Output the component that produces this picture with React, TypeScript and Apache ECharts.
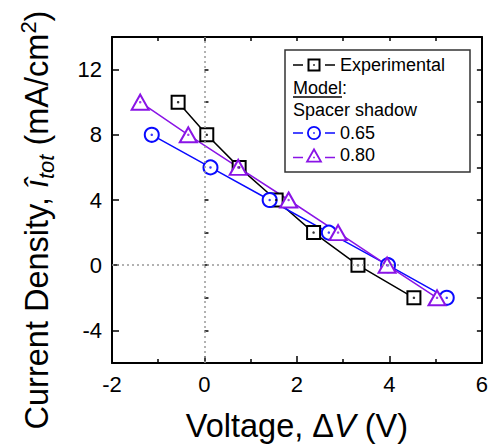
import React, { useEffect, useRef } from "react";
import * as echarts from "echarts";

// Measured current density vs. applied voltage
const expVoltage = [-0.57, 0.05, 0.75, 1.55, 2.36, 3.32, 4.53];
const expCurrent = [10, 8, 6, 4, 2, 0, -2];

// Model, spacer shadow fraction 0.65
const m065Voltage = [-1.14, 0.13, 1.41, 2.69, 3.97, 5.24];
const m065Current = [8, 6, 4, 2, 0, -2];

// Model, spacer shadow fraction 0.80
const m080Voltage = [-1.39, -0.35, 0.73, 1.82, 2.89, 3.95, 5.03];
const m080Current = [10, 8, 6, 4, 2, 0, -2];

const xLabelValues = [-2, 0, 2, 4, 6];
const yLabelValues = [-4, 0, 4, 8, 12];

const seriesNames = ["Experimental", "0.65", "0.80"];
const colors = ["#000000", "#0a0aff", "#8a14e6"];

const FONT = "'Liberation Sans', Arial, Helvetica, sans-serif";
const TITLE_SIZE = 32.5;

const pairs = (xs: number[], ys: number[]) => xs.map((x, i) => [x, ys[i]]);

// Legend icons: dash, hollow marker with centre dot, dash
const squareIcon =
  "path://M0 5.75 L10 5.75 L10 7.25 L0 7.25 Z " +
  "M14.5 0 L27.5 0 L27.5 13 L14.5 13 Z M16.5 2 L16.5 11 L25.5 11 L25.5 2 Z " +
  "M20.2 5.7 L21.8 5.7 L21.8 7.3 L20.2 7.3 Z " +
  "M32 5.75 L42 5.75 L42 7.25 L32 7.25 Z";
const circleIcon =
  "path://M0 6.25 L10 6.25 L10 7.75 L0 7.75 Z " +
  "M14 7 A7 7 0 1 1 28 7 A7 7 0 1 1 14 7 Z M15.8 7 A5.2 5.2 0 1 0 26.2 7 A5.2 5.2 0 1 0 15.8 7 Z " +
  "M20.2 6.2 L21.8 6.2 L21.8 7.8 L20.2 7.8 Z " +
  "M32 6.25 L42 6.25 L42 7.75 L32 7.75 Z";
const triangleIcon =
  "path://M0 9.25 L10 9.25 L10 10.75 L0 10.75 Z " +
  "M21 0 L29.5 15 L12.5 15 Z M21 3.65 L15.59 13.2 L26.41 13.2 Z " +
  "M20.2 9.2 L21.8 9.2 L21.8 10.8 L20.2 10.8 Z " +
  "M32 9.25 L42 9.25 L42 10.75 L32 10.75 Z";

const lineSeries = (
  name: string,
  data: number[][],
  color: string,
  symbol: string,
  size: number | number[]
) => ({
  name,
  type: "line",
  data,
  symbol,
  symbolSize: size,
  showSymbol: true,
  lineStyle: { color, width: 1.5 },
  itemStyle: { color, borderColor: color, borderWidth: 2 },
  emphasis: { disabled: true },
  z: 2,
});

const dotSeries = (name: string, data: number[][], color: string) => ({
  name,
  type: "scatter",
  data,
  symbol: "circle",
  symbolSize: 2.5,
  itemStyle: { color },
  emphasis: { disabled: true },
  z: 3,
});

export default function App() {
  const ref = useRef<HTMLDivElement>(null);

  useEffect(() => {
    if (!ref.current) return;
    const chart = echarts.init(ref.current, null, { renderer: "svg" });

    const tickLabel = { fontFamily: FONT, fontSize: 22, color: "#000" };
    const axisLine = { show: true, onZero: false, lineStyle: { color: "#000", width: 2 } };

    const legendBase = {
      orient: "vertical",
      left: 293,
      padding: 0,
      itemGap: 0,
      itemWidth: 42,
      selectedMode: false,
      itemStyle: { borderWidth: 0 },
      textStyle: { fontFamily: FONT, fontSize: 18, color: "#000", padding: [0, 0, 0, 0] },
    };

    chart.setOption({
      animation: false,
      backgroundColor: "#fff",
      grid: { left: 112, right: 9, top: 37, bottom: 76 },
      xAxis: [
        {
          type: "value",
          position: "bottom",
          min: -2,
          max: 6,
          interval: 2,
          axisLine,
          axisTick: { inside: true, length: 7, lineStyle: { color: "#000", width: 1.5 } },
          minorTick: { show: true, splitNumber: 2, length: 4, lineStyle: { color: "#000", width: 1.5 } },
          axisLabel: {
            ...tickLabel,
            margin: 10,
            customValues: xLabelValues,
            formatter: (v: number) => String(v),
          },
          splitLine: { show: false },
          name: "{a|Voltage, Δ}{i|V}{a| (V)}",
          nameLocation: "middle",
          nameGap: 46,
          nameTextStyle: {
            rich: {
              a: { fontFamily: FONT, fontSize: TITLE_SIZE, color: "#000" },
              i: { fontFamily: FONT, fontSize: TITLE_SIZE, fontStyle: "italic", color: "#000" },
            },
          },
        },
        {
          type: "value",
          position: "top",
          min: -2,
          max: 6,
          interval: 1,
          axisLine,
          axisTick: { inside: true, length: 4, lineStyle: { color: "#000", width: 1.5 } },
          axisLabel: { show: false },
          splitLine: { show: false },
        },
      ],
      yAxis: [
        {
          type: "value",
          position: "left",
          min: -6,
          max: 14,
          interval: 2,
          axisLine,
          axisTick: {
            inside: true,
            length: 7,
            customValues: yLabelValues,
            lineStyle: { color: "#000", width: 1.5 },
          },
          axisLabel: {
            ...tickLabel,
            margin: 10,
            customValues: yLabelValues,
            formatter: (v: number) => String(v),
          },
          splitLine: { show: false },
          name: "{a|Current Density, }{i|î}{s|tot}{a| (mA/cm}{p|2}{a|)}",
          nameLocation: "middle",
          nameGap: 55,
          nameTextStyle: {
            padding: [0, 40, 0, 0],
            rich: {
              a: { fontFamily: FONT, fontSize: TITLE_SIZE, color: "#000", lineHeight: 40 },
              i: { fontFamily: FONT, fontSize: TITLE_SIZE, fontStyle: "italic", color: "#000", lineHeight: 40 },
              s: {
                fontFamily: FONT,
                fontSize: 22,
                fontStyle: "italic",
                color: "#000",
                lineHeight: 24,
                verticalAlign: "bottom",
              },
              p: {
                fontFamily: FONT,
                fontSize: 22,
                color: "#000",
                lineHeight: 24,
                verticalAlign: "top",
              },
            },
          },
        },
        {
          type: "value",
          position: "left",
          min: -6,
          max: 14,
          interval: 2,
          axisLine: { show: false },
          axisTick: { inside: true, length: 4, lineStyle: { color: "#000", width: 1.5 } },
          axisLabel: { show: false },
          splitLine: { show: false },
        },
        {
          type: "value",
          position: "right",
          min: -6,
          max: 14,
          interval: 2,
          axisLine,
          axisTick: { inside: true, length: 5, lineStyle: { color: "#000", width: 1.5 } },
          axisLabel: { show: false },
          splitLine: { show: false },
        },
      ],
      legend: [
        { ...legendBase, top: 56, itemHeight: 13, icon: squareIcon, data: [seriesNames[0]] },
        { ...legendBase, top: 124, itemHeight: 14, icon: circleIcon, data: [seriesNames[1]] },
        { ...legendBase, top: 146, itemHeight: 15, icon: triangleIcon, data: [seriesNames[2]] },
      ],
      graphic: [
        {
          type: "rect",
          z: 3,
          shape: { x: 285, y: 50, width: 185, height: 122 },
          style: { fill: "#fff", stroke: "#333", lineWidth: 1.5 },
        },
        {
          type: "text",
          z: 5,
          x: 293,
          y: 88,
          style: { text: "Model:", font: `18px ${FONT}`, fill: "#000", verticalAlign: "middle" },
        },
        {
          type: "line",
          z: 5,
          shape: { x1: 293, y1: 97, x2: 342, y2: 97 },
          style: { stroke: "#000", lineWidth: 1.3 },
        },
        {
          type: "text",
          z: 5,
          x: 293,
          y: 110,
          style: { text: "Spacer shadow", font: `18px ${FONT}`, fill: "#000", verticalAlign: "middle" },
        },
      ],
      series: [
        {
          ...lineSeries(seriesNames[0], pairs(expVoltage, expCurrent), colors[0], "emptyRect", 13),
          markLine: {
            silent: true,
            symbol: "none",
            label: { show: false },
            lineStyle: { color: "#999", type: [2, 3], width: 1.5 },
            data: [{ xAxis: 0 }, { yAxis: 0 }],
          },
        },
        dotSeries(seriesNames[0], pairs(expVoltage, expCurrent), colors[0]),
        lineSeries(seriesNames[1], pairs(m065Voltage, m065Current), colors[1], "emptyCircle", 14),
        dotSeries(seriesNames[1], pairs(m065Voltage, m065Current), colors[1]),
        lineSeries(seriesNames[2], pairs(m080Voltage, m080Current), colors[2], "emptyTriangle", [17, 15]),
        dotSeries(seriesNames[2], pairs(m080Voltage, m080Current), colors[2]),
      ],
    });

    return () => chart.dispose();
  }, []);

  return (
    <div
      ref={ref}
      style={{ position: "fixed", left: 0, top: 0, width: 491, height: 447 }}
    />
  );
}
